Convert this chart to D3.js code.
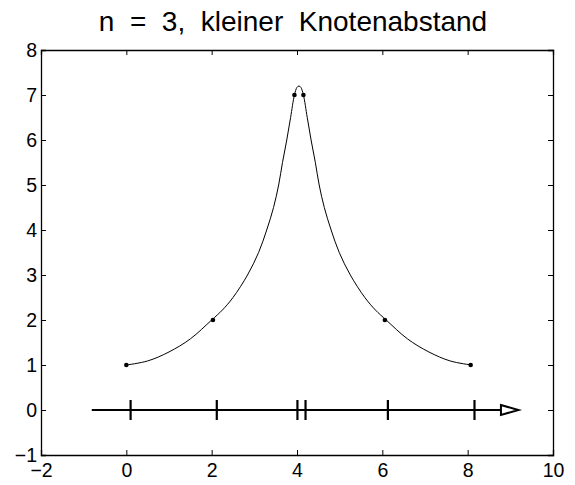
<!DOCTYPE html>
<html>
<head>
<meta charset="utf-8">
<script src="https://cdn.jsdelivr.net/npm/d3@7"></script>
<style>
  html, body { margin: 0; padding: 0; background: #fff; }
  svg { display: block; font-family: "Liberation Sans", Arial, Helvetica, sans-serif; }
</style>
</head>
<body>
<svg id="chart" width="575" height="485"></svg>
<script>
// Spline curve sampled along its length
const curveX = [0, 0.5, 1, 1.5, 2, 2.25, 2.5, 2.84, 3.1, 3.29, 3.45, 3.57, 3.66, 3.76, 3.85, 3.94, 4.0, 4.045, 4.09, 4.15,
                4.24, 4.33, 4.43, 4.52, 4.64, 4.80, 4.99, 5.25, 5.59, 5.84, 6.09, 6.59, 7.09, 7.59, 8.09];
const curveY = [1, 1.09, 1.29, 1.58, 2, 2.22, 2.5, 3, 3.5, 4, 4.5, 5, 5.5, 6, 6.5, 7, 7.17, 7.2, 7.17, 7,
                6.5, 6, 5.5, 5, 4.5, 4, 3.5, 3, 2.5, 2.22, 2, 1.58, 1.29, 1.09, 1];

// Interpolation points
const pointX = [0, 2.03, 3.94, 4.15, 6.06, 8.07];
const pointY = [1, 2, 7, 7, 2, 1];

// Knot positions on the arrow axis
const knots = [0.1, 2.12, 4.01, 4.2, 6.13, 8.16];
const arrowStart = -0.81;
const arrowEnd = 9.19;
const arrowHeadBase = 8.78;
const arrowY = 0;

const xTicks = [-2, 0, 2, 4, 6, 8, 10];
const yTicks = [-1, 0, 1, 2, 3, 4, 5, 6, 7, 8];
const titleText = "n  =  3,  kleiner  Knotenabstand";

const svg = d3.select("#chart");
const plotLeft = 41, plotRight = 553, plotTop = 50, plotBottom = 455;

const x = d3.scaleLinear().domain([-2, 10]).range([plotLeft, plotRight]);
const y = d3.scaleLinear().domain([-1, 8]).range([plotBottom, plotTop]);

const fmt = d => (d < 0 ? "\u2212" + Math.abs(d) : String(d));

// Axes (boxed, inward ticks)
const axB = svg.append("g").attr("transform", `translate(0,${plotBottom})`)
  .call(d3.axisBottom(x).tickValues(xTicks).tickSize(-5).tickPadding(8).tickFormat(fmt));
const axT = svg.append("g").attr("transform", `translate(0,${plotTop})`)
  .call(d3.axisTop(x).tickValues(xTicks).tickSize(-5).tickFormat(""));
const axL = svg.append("g").attr("transform", `translate(${plotLeft},0)`)
  .call(d3.axisLeft(y).tickValues(yTicks).tickSize(-5).tickPadding(4).tickFormat(fmt));
const axR = svg.append("g").attr("transform", `translate(${plotRight},0)`)
  .call(d3.axisRight(y).tickValues(yTicks).tickSize(-5).tickFormat(""));

[axB, axT, axL, axR].forEach(g => {
  g.select(".domain").attr("stroke", "#000").attr("stroke-width", 1.3);
  g.selectAll(".tick line").attr("stroke", "#000").attr("stroke-width", 1);
  g.selectAll("text").attr("fill", "#000").attr("font-size", 19.5)
    .attr("font-family", "'Liberation Sans', Arial, sans-serif");
});
axB.selectAll("text").attr("y", 8).attr("dy", "0.71em");

// Title
svg.append("text")
  .attr("x", 293)
  .attr("y", 31)
  .attr("text-anchor", "middle")
  .attr("font-size", 28)
  .attr("fill", "#000")
  .style("white-space", "pre")
  .text(titleText);

// Curve
const line = d3.line().x(d => x(d[0])).y(d => y(d[1])).curve(d3.curveCatmullRom.alpha(0.5));
svg.append("path")
  .datum(curveX.map((v, i) => [v, curveY[i]]))
  .attr("d", line)
  .attr("fill", "none")
  .attr("stroke", "#000")
  .attr("stroke-width", 1);

// Points
svg.selectAll("circle.pt")
  .data(pointX.map((v, i) => [v, pointY[i]]))
  .join("circle")
  .attr("class", "pt")
  .attr("cx", d => x(d[0]))
  .attr("cy", d => y(d[1]))
  .attr("r", 2.3)
  .attr("fill", "#000");

// Knot arrow
const ay = y(arrowY);
svg.append("line")
  .attr("x1", x(arrowStart)).attr("x2", x(arrowHeadBase))
  .attr("y1", ay).attr("y2", ay)
  .attr("stroke", "#000").attr("stroke-width", 2.2);
svg.append("path")
  .attr("d", `M${x(arrowHeadBase)},${ay - 5} L${x(arrowEnd)},${ay} L${x(arrowHeadBase)},${ay + 5} Z`)
  .attr("fill", "#fff").attr("stroke", "#000").attr("stroke-width", 2);
svg.selectAll("line.knot")
  .data(knots)
  .join("line")
  .attr("class", "knot")
  .attr("x1", d => x(d)).attr("x2", d => x(d))
  .attr("y1", ay - 10).attr("y2", ay + 10)
  .attr("stroke", "#000").attr("stroke-width", 2.2);
</script>
</body>
</html>
